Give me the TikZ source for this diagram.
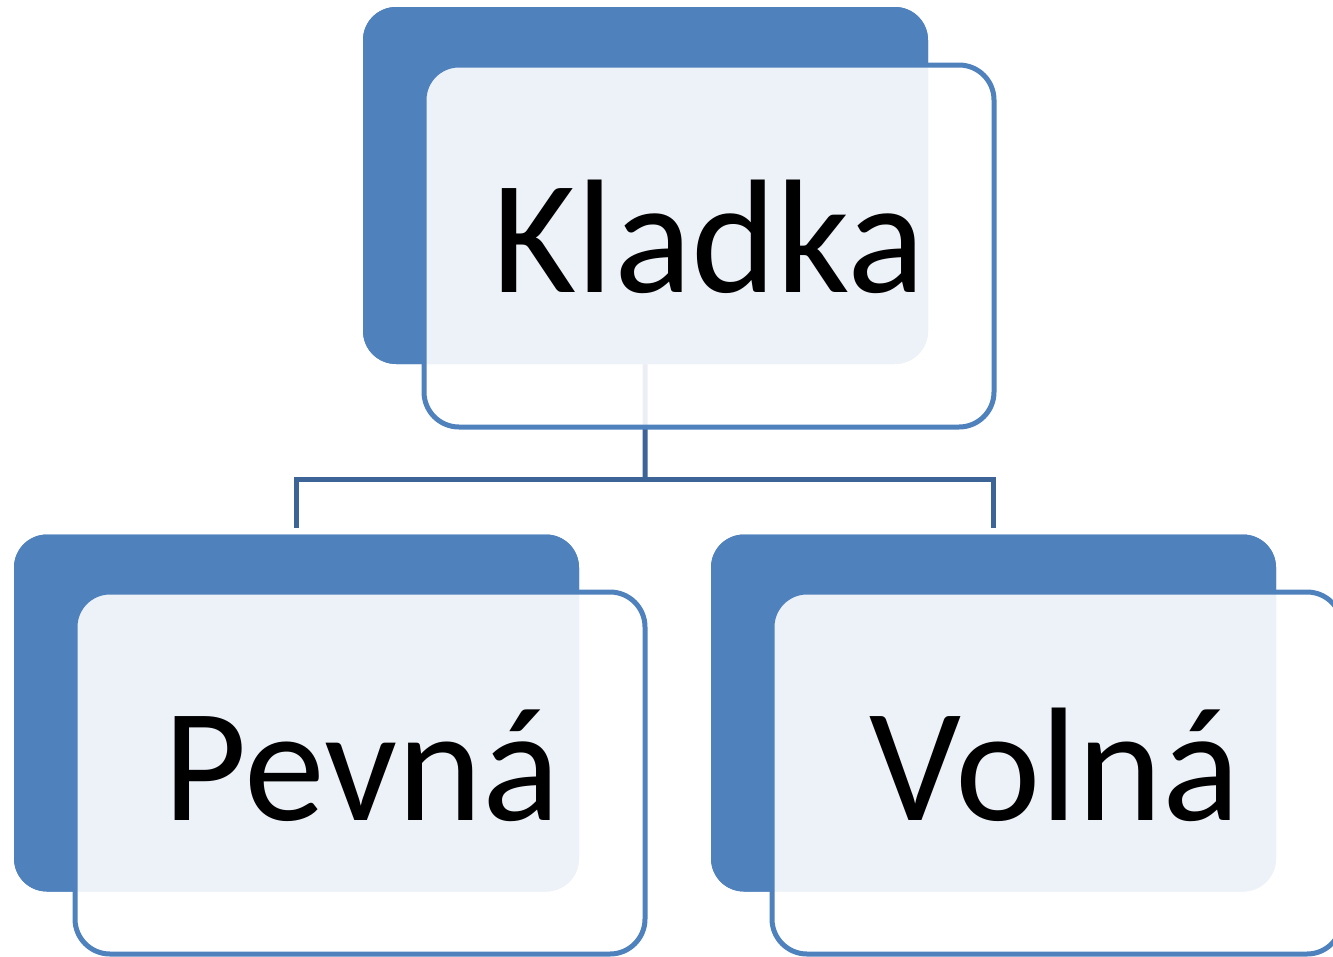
\documentclass[tikz,border=0pt]{standalone}
\usepackage{fontspec}
\setmainfont{Carlito}
\definecolor{accent}{HTML}{4F81BD}
\definecolor{linkc}{HTML}{3D6497}
\begin{document}
\begin{tikzpicture}[x=1pt,y=-1pt,
  backbox/.style={draw=none,fill=accent,rounded corners=33pt,minimum width=565pt,minimum height=357pt,inner sep=0pt,outer sep=0pt},
  frontbox/.style={draw=accent,line width=5pt,fill=white,fill opacity=0.9,draw opacity=1,rounded corners=35pt,minimum width=570pt,minimum height=362pt,inner sep=0pt,outer sep=0pt},
  word/.style={anchor=base,inner sep=0pt,font=\fontsize{162}{162}\selectfont,text=black},
  link/.style={draw=linkc,line width=5pt}]
\useasboundingbox (0,0) rectangle (1333,956);
% connectors (drawn first, faded beneath the boxes)
\coordinate (hub) at (645,479.5);
\node[backbox] (kback) at (645.5,185.5) {};
\node[backbox] (pback) at (296.5,713) {};
\node[backbox] (vback) at (993.5,713) {};
\draw[link] (kback.center) -- (hub);
\draw[link] (hub) -| ([yshift=7pt]pback.north);
\draw[link] (hub) -| ([yshift=7pt]vback.north);
% redraw backs on top of connector stubs
\node[backbox] at (kback.center) {};
\node[backbox] at (pback.center) {};
\node[backbox] at (vback.center) {};
% front boxes
\node[frontbox] (kfront) at (709,246) {};
\node[frontbox] (pfront) at (360,773) {};
\node[frontbox] (vfront) at (1057,773) {};
% labels
\node[word] (ktext) at (709,292) {Kladka};
\node[word] (ptext) at (362,820) {Pevná};
\node[word] (vtext) at (1055,820) {Volná};
\end{tikzpicture}
\end{document}
